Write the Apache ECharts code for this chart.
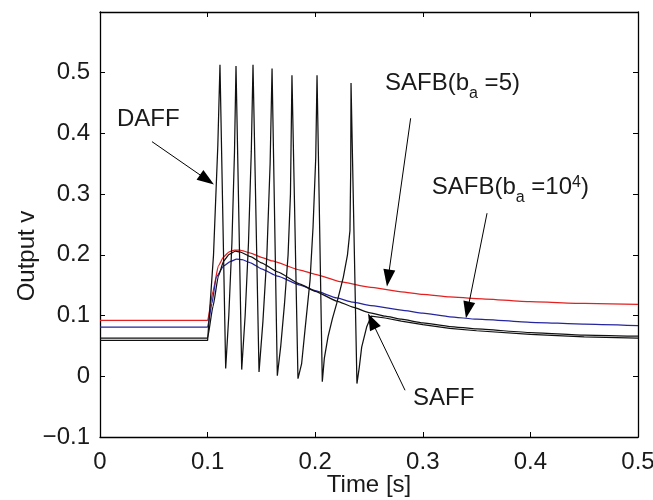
<!DOCTYPE html>
<html>
<head>
<meta charset="utf-8">
<script src="https://cdn.jsdelivr.net/npm/echarts@6/dist/echarts.min.js"></script>
<style>
  html, body { margin: 0; padding: 0; background: #fff; }
  #chart { width: 653px; height: 500px; }
</style>
</head>
<body>
<div id="chart"></div>
<script>
// Step response of the four controller variants, output v against time.
const FONT = '"Liberation Sans", Arial, Helvetica, sans-serif';

// Tick values and their printed labels
const xTickLabels = ['0', '0.1', '0.2', '0.3', '0.4', '0.5'];
const yTickLabels = ['\u22120.1', '0', '0.1', '0.2', '0.3', '0.4', '0.5', ''];

// SAFB with b_a = 5 (red)
const safb5Data = [
  [0, 0.092], [0.1, 0.092], [0.105, 0.14], [0.11, 0.182], [0.115, 0.197],
  [0.12, 0.205], [0.125, 0.208], [0.13, 0.208], [0.14, 0.203], [0.15, 0.196],
  [0.16, 0.190], [0.186, 0.175], [0.2, 0.168], [0.223, 0.156], [0.25, 0.147],
  [0.28, 0.139], [0.3, 0.135], [0.325, 0.131], [0.35, 0.128], [0.4, 0.123],
  [0.45, 0.120], [0.5, 0.1186]
];

// SAFB with b_a = 10^4 (blue)
const safb1e4Data = [
  [0, 0.081], [0.1, 0.081], [0.104, 0.12], [0.108, 0.163], [0.115, 0.182],
  [0.121, 0.189], [0.127, 0.193], [0.132, 0.192], [0.14, 0.187], [0.15, 0.177],
  [0.165, 0.165], [0.186, 0.150], [0.2, 0.141], [0.22, 0.129], [0.235, 0.122],
  [0.25, 0.117], [0.28, 0.109], [0.3, 0.104], [0.325, 0.098], [0.35, 0.094],
  [0.4, 0.089], [0.45, 0.086], [0.5, 0.0835]
];

// SAFF (black)
const saffData = [
  [0, 0.063], [0.1, 0.063], [0.105, 0.115], [0.11, 0.165], [0.115, 0.19],
  [0.12, 0.201], [0.126, 0.206], [0.13, 0.205], [0.14, 0.197], [0.15, 0.187],
  [0.165, 0.172], [0.186, 0.152], [0.2, 0.140], [0.22, 0.124], [0.235, 0.114],
  [0.25, 0.105], [0.265, 0.099], [0.28, 0.094], [0.3, 0.088], [0.325, 0.082],
  [0.35, 0.078], [0.4, 0.072], [0.45, 0.068], [0.5, 0.066]
];

// DAFF (black): limit-cycle oscillation, then settling
const daffData = [
  [0, 0.059], [0.1, 0.059], [0.1055, 0.2], [0.1095, 0.38], [0.1115, 0.513],
  [0.1168, 0.013], [0.1197, 0.10], [0.1226, 0.22], [0.1250, 0.37], [0.1264, 0.511],
  [0.1317, 0.011], [0.1349, 0.10], [0.1380, 0.22], [0.1406, 0.37], [0.1422, 0.513],
  [0.1478, 0.007], [0.1514, 0.09], [0.1551, 0.20], [0.1581, 0.35], [0.1599, 0.507],
  [0.1648, 0.001], [0.1680, 0.05], [0.1715, 0.12], [0.1748, 0.20], [0.1770, 0.30], [0.1784, 0.496],
  [0.1840, -0.004], [0.1874, 0.021], [0.1905, 0.076], [0.1952, 0.158], [0.1980, 0.246], [0.2005, 0.36], [0.2017, 0.496],
  [0.2066, -0.009], [0.2085, 0.030], [0.2119, 0.065], [0.2160, 0.095], [0.2200, 0.120], [0.2261, 0.163],
  [0.2300, 0.200], [0.2323, 0.240], [0.2330, 0.34], [0.2333, 0.483],
  [0.2388, -0.012], [0.2410, 0.015], [0.2432, 0.048], [0.2478, 0.081], [0.2520, 0.099],
  [0.265, 0.096], [0.28, 0.091], [0.3, 0.085], [0.325, 0.079], [0.35, 0.075],
  [0.4, 0.069], [0.45, 0.065], [0.5, 0.063]
];

// Annotations: text anchor (left edge, cap centre) and arrow tail/tip, in data units
const annotations = [
  { parts: [['DAFF', 0]], at: [0.0158, 0.4227], tail: [0.0483, 0.3865], tip: [0.1059, 0.3158] },
  { parts: [['SAFB(b', 0], ['a', 1], [' =5)', 0]], at: [0.2649, 0.4819], tail: [0.2887, 0.4250], tip: [0.2667, 0.1480] },
  { parts: [['SAFB(b', 0], ['a', 1], [' =10', 0], ['4', 2], [')', 0]], at: [0.3083, 0.3109], tail: [0.3597, 0.2686], tip: [0.3401, 0.0954] },
  { parts: [['SAFF', 0]], at: [0.2909, -0.0362], tail: [0.2835, -0.0230], tip: [0.2491, 0.1036] }
];

const AXIS_COLOR = '#000';
const TEXT_COLOR = '#1a1a1a';
const MAIN_SIZE = 24;
const SMALL_SIZE = 16;

function tickLabel(list, min) {
  return function (v) {
    const i = Math.round((v - min) / 0.1);
    return list[i] !== undefined ? list[i] : '';
  };
}

const axisLine = { show: true, onZero: false, lineStyle: { color: AXIS_COLOR, width: 1.3 } };
const axisTick = { show: true, inside: true, length: 5, lineStyle: { color: AXIS_COLOR, width: 1 } };

function lineSeries(name, data, color) {
  return {
    name, type: 'line', data, showSymbol: false, symbol: 'none',
    smooth: 0.15, smoothMonotone: 'x',
    lineStyle: { color, width: 1.25 }, silent: true
  };
}

const chart = echarts.init(document.getElementById('chart'), null, { renderer: 'canvas' });

chart.setOption({
  animation: false,
  backgroundColor: '#fff',
  grid: { left: 100, right: 15, top: 12, bottom: 63, containLabel: false, outerBoundsMode: 'none' },
  xAxis: [
    {
      type: 'value', min: 0, max: 0.5, interval: 0.1, position: 'bottom',
      axisLine, axisTick, splitLine: { show: false },
      axisLabel: { margin: 13, fontSize: MAIN_SIZE, fontFamily: FONT, color: TEXT_COLOR, formatter: tickLabel(xTickLabels, 0) },
      name: 'Time [s]', nameLocation: 'middle', nameGap: 36, nameMoveOverlap: false,
      nameTextStyle: { fontSize: MAIN_SIZE, fontFamily: FONT, color: TEXT_COLOR }
    },
    {
      type: 'value', min: 0, max: 0.5, interval: 0.1, position: 'top',
      axisLine, axisTick, splitLine: { show: false }, axisLabel: { show: false }
    }
  ],
  yAxis: [
    {
      type: 'value', min: -0.1, max: 0.6, interval: 0.1, position: 'left',
      axisLine, axisTick, splitLine: { show: false },
      axisLabel: { margin: 10, fontSize: MAIN_SIZE, fontFamily: FONT, color: TEXT_COLOR, formatter: tickLabel(yTickLabels, -0.1) }
    },
    {
      type: 'value', min: -0.1, max: 0.6, interval: 0.1, position: 'right',
      axisLine, axisTick, splitLine: { show: false }, axisLabel: { show: false }
    }
  ],
  series: [
    lineSeries('SAFB(b_a=5)', safb5Data, '#e3201f'),
    lineSeries('SAFB(b_a=10^4)', safb1e4Data, '#25259e'),
    lineSeries('SAFF', saffData, '#111'),
    Object.assign(lineSeries('DAFF', daffData, '#111'), { smooth: false })
  ]
});

// Build annotation texts and arrows in pixel space from their data anchors
const measureCtx = document.createElement('canvas').getContext('2d');
function textWidth(str, size) {
  measureCtx.font = size + 'px ' + FONT;
  return measureCtx.measureText(str).width;
}

const graphics = [];
const toPx = (p) => chart.convertToPixel({ gridIndex: 0 }, p);

annotations.forEach((a) => {
  const [x0, y0] = toPx(a.at);
  let x = x0;
  a.parts.forEach(([str, kind]) => {
    const size = kind === 0 ? MAIN_SIZE : SMALL_SIZE;
    const dy = kind === 1 ? 10 : kind === 2 ? -5 : 0;
    graphics.push({
      type: 'text', silent: true, z: 10,
      style: {
        text: str, x, y: y0 + dy, fill: TEXT_COLOR,
        font: size + 'px ' + FONT,
        textAlign: 'left', textVerticalAlign: 'middle', verticalAlign: 'middle'
      }
    });
    x += textWidth(str, size);
  });

  const [tx, ty] = toPx(a.tail);
  const [hx, hy] = toPx(a.tip);
  const len = Math.hypot(hx - tx, hy - ty);
  const ux = (hx - tx) / len, uy = (hy - ty) / len;
  const headLen = 17, halfW = 6;
  const bx = hx - ux * headLen, by = hy - uy * headLen;
  graphics.push({
    type: 'line', silent: true, z: 10,
    shape: { x1: tx, y1: ty, x2: bx + ux * 2, y2: by + uy * 2 },
    style: { stroke: '#000', lineWidth: 1 }
  });
  graphics.push({
    type: 'polygon', silent: true, z: 10,
    shape: { points: [[hx, hy], [bx - uy * halfW, by + ux * halfW], [bx + uy * halfW, by - ux * halfW]] },
    style: { fill: '#000' }
  });
});

// Vertical axis title
graphics.push({
  type: 'text', silent: true, z: 10,
  x: 27, y: 256, rotation: Math.PI / 2,
  style: {
    text: 'Output v', x: 0, y: 0, fill: TEXT_COLOR,
    font: MAIN_SIZE + 'px ' + FONT,
    textAlign: 'center', textVerticalAlign: 'middle', verticalAlign: 'middle'
  }
});

chart.setOption({ graphic: graphics });
</script>
</body>
</html>
